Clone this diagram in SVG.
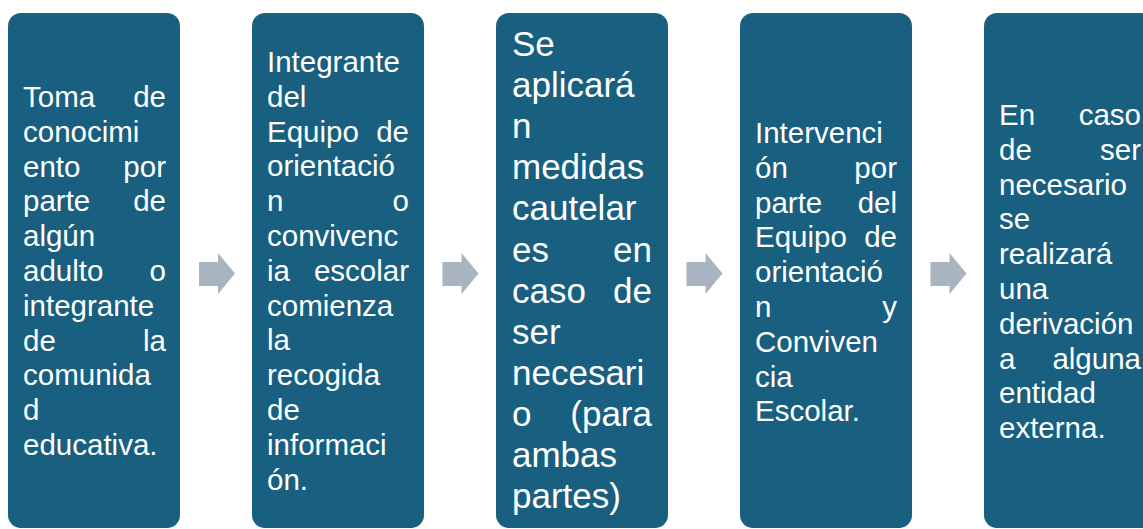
<svg xmlns="http://www.w3.org/2000/svg" width="1143" height="529" viewBox="0 0 1143 529">
<style>
.box{fill:#185F80;}
.arr{fill:#A9B4C1;}
text{fill:#FFFFFF;font-family:"Liberation Sans",Arial,sans-serif;font-size:29.5px;}
.big{font-size:35px;}
.r{text-anchor:end;}
</style>
<defs>
<path id="arrow" d="M0 262 H19 V253 L36 273.5 L19 294 V286 H0 Z"/>
</defs>
<rect width="1143" height="529" fill="#FFFFFF"/>
<g id="connectors">
<use href="#arrow" class="arr" x="199"/>
<use href="#arrow" class="arr" x="442.5"/>
<use href="#arrow" class="arr" x="686.5"/>
<use href="#arrow" class="arr" x="930.5"/>
</g>
<g id="node1">
<rect class="box" x="8" y="13" width="172" height="515" rx="13"/>
<text x="23" y="107">Toma</text><text class="r" x="166" y="107">de</text>
<text x="23" y="141.8">conocimi</text>
<text x="23" y="176.6">ento</text><text class="r" x="166" y="176.6">por</text>
<text x="23" y="211.4">parte</text><text class="r" x="166" y="211.4">de</text>
<text x="23" y="246.2">algún</text>
<text x="23" y="281">adulto</text><text class="r" x="166" y="281">o</text>
<text x="23" y="315.8">integrante</text>
<text x="23" y="350.6">de</text><text class="r" x="166" y="350.6">la</text>
<text x="23" y="385.4">comunida</text>
<text x="23" y="420.2">d</text>
<text x="23" y="455">educativa.</text>
</g>
<g id="node2">
<rect class="box" x="252" y="13" width="172" height="515" rx="13"/>
<text x="267" y="72">Integrante</text>
<text x="267" y="106.8">del</text>
<text x="267" y="141.6">Equipo</text><text class="r" x="409" y="141.6">de</text>
<text x="267" y="176.4">orientació</text>
<text x="267" y="211.2">n</text><text class="r" x="409" y="211.2">o</text>
<text x="267" y="246">convivenc</text>
<text x="267" y="280.8">ia</text><text class="r" x="409" y="280.8">escolar</text>
<text x="267" y="315.6">comienza</text>
<text x="267" y="350.4">la</text>
<text x="267" y="385.2">recogida</text>
<text x="267" y="420">de</text>
<text x="267" y="454.8">informaci</text>
<text x="267" y="489.6">ón.</text>
</g>
<g id="node3">
<rect class="box" x="496" y="13" width="172" height="515" rx="13"/>
<text class="big" x="512" y="56">Se</text>
<text class="big" x="512" y="97.1">aplicará</text>
<text class="big" x="512" y="138.2">n</text>
<text class="big" x="512" y="179.3">medidas</text>
<text class="big" x="512" y="220.4">cautelar</text>
<text class="big" x="512" y="261.5">es</text><text class="big r" x="652" y="261.5">en</text>
<text class="big" x="512" y="302.6">caso</text><text class="big r" x="652" y="302.6">de</text>
<text class="big" x="512" y="343.7">ser</text>
<text class="big" x="512" y="384.8">necesari</text>
<text class="big" x="512" y="425.9">o</text><text class="big r" x="652" y="425.9">(para</text>
<text class="big" x="512" y="467">ambas</text>
<text class="big" x="512" y="508.1">partes)</text>
</g>
<g id="node4">
<rect class="box" x="740" y="13" width="172" height="515" rx="13"/>
<text x="755" y="143">Intervenci</text>
<text x="755" y="177.8">ón</text><text class="r" x="897" y="177.8">por</text>
<text x="755" y="212.6">parte</text><text class="r" x="897" y="212.6">del</text>
<text x="755" y="247.4">Equipo</text><text class="r" x="897" y="247.4">de</text>
<text x="755" y="282.2">orientació</text>
<text x="755" y="317">n</text><text class="r" x="897" y="317">y</text>
<text x="755" y="351.8">Conviven</text>
<text x="755" y="386.6">cia</text>
<text x="755" y="421.4">Escolar.</text>
</g>
<g id="node5">
<rect class="box" x="984" y="13" width="172" height="515" rx="13"/>
<text x="999" y="125">En</text><text class="r" x="1141" y="125">caso</text>
<text x="999" y="159.8">de</text><text class="r" x="1141" y="159.8">ser</text>
<text x="999" y="194.6">necesario</text>
<text x="999" y="229.4">se</text>
<text x="999" y="264.2">realizará</text>
<text x="999" y="299">una</text>
<text x="999" y="333.8">derivación</text>
<text x="999" y="368.6">a</text><text class="r" x="1141" y="368.6">alguna</text>
<text x="999" y="403.4">entidad</text>
<text x="999" y="438.2">externa.</text>
</g>
</svg>
